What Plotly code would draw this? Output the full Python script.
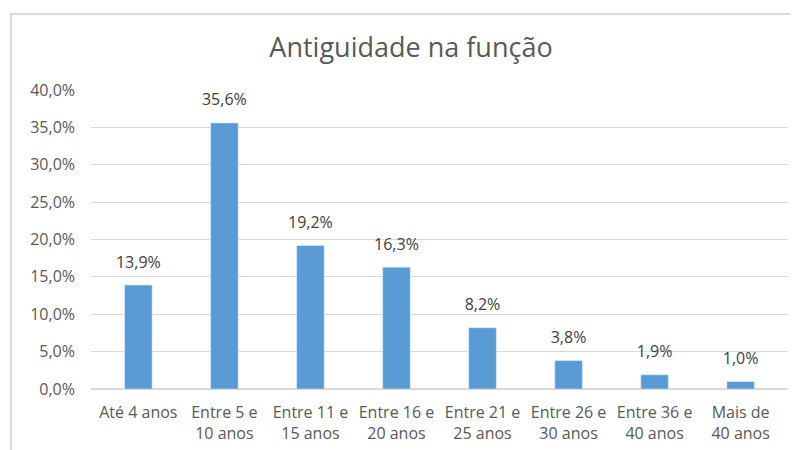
import plotly.graph_objects as go

categories = ["Até 4 anos", "Entre 5 e<br>10 anos", "Entre 11 e<br>15 anos", "Entre 16 e<br>20 anos",
              "Entre 21 e<br>25 anos", "Entre 26 e<br>30 anos", "Entre 36 e<br>40 anos", "Mais de<br>40 anos"]
values = [13.9, 35.6, 19.2, 16.3, 8.2, 3.8, 1.9, 1.0]
y_ticks = [0, 5, 10, 15, 20, 25, 30, 35, 40]
y_ticktext = ["0,0%", "5,0%", "10,0%", "15,0%", "20,0%", "25,0%", "30,0%", "35,0%", "40,0%"]

FONT = "'Open Sans', Lato, sans-serif"
L = 83

fig = go.Figure()
fig.add_trace(go.Bar(
    x=categories, y=values,
    marker=dict(color="#5B9BD5"),
    width=0.32,
    hoverinfo="skip",
))
fig.add_trace(go.Scatter(
    x=categories, y=values,
    mode="markers+text",
    marker=dict(size=20, opacity=0),
    text=values, texttemplate="%{y:.1f}%", textposition="top center",
    textfont=dict(size=16, color="#404040", family=FONT),
    cliponaxis=False,
))

fig.update_layout(
    width=798, height=450,
    margin=dict(l=L, r=798 - L - 697, t=82, b=69),
    paper_bgcolor="white", plot_bgcolor="white",
    separators=",.",
    showlegend=False,
    title=dict(text="Antiguidade na função", x=(403 - L) / 697, xref="paper", xanchor="center",
               y=1 - 40 / 450, yanchor="middle",
               font=dict(size=27, color="#595959", family=FONT)),
    font=dict(family=FONT, color="#595959", size=16),
)
fig.update_yaxes(range=[0, 40], tickvals=y_ticks, ticktext=y_ticktext,
                 showgrid=True, gridcolor="#d9d9d9", gridwidth=1, zeroline=True,
                 zerolinecolor="#d9d9d9", showline=False, ticks="", ticklabelstandoff=15,
                 tickfont=dict(size=16, color="#595959"))
fig.update_xaxes(showgrid=False, showline=False, ticks="", tickangle=0, ticklabelstandoff=12,
                 tickfont=dict(size=16, color="#595959"))

fig.add_shape(type="rect", xref="paper", yref="paper",
              x0=(3 - L) / 697, x1=1.05, y0=-0.3, y1=(381 - 6) / 299,
              line=dict(color="#d9d9d9", width=2), fillcolor="rgba(0,0,0,0)", layer="below")

fig.write_html("out.html")
